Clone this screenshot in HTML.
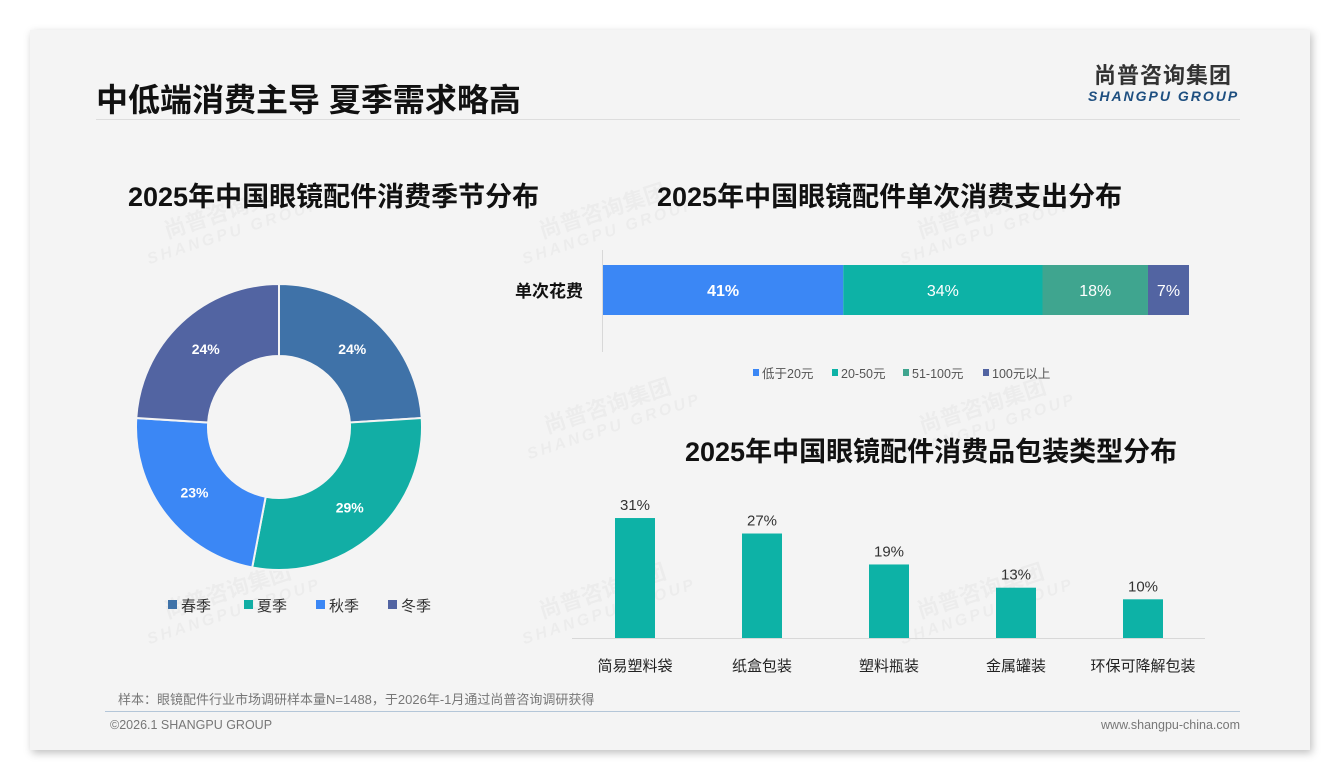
<!DOCTYPE html>
<html><head><meta charset="utf-8">
<style>
body{margin:0;width:1340px;height:780px;background:#fff;font-family:"Liberation Sans","Noto Sans CJK SC",sans-serif;position:relative;overflow:hidden}
.card{position:absolute;left:30px;top:30px;width:1280px;height:720px;background:#f4f4f4;box-shadow:2px 3px 8px rgba(0,0,0,.25)}
.abs{position:absolute;white-space:nowrap}
.wm{position:absolute;color:rgba(0,0,0,0.03);font-weight:bold;transform:rotate(-18deg);font-size:22px;line-height:22px;text-align:center}
.wm small{display:block;font-size:16px;letter-spacing:3px;font-style:italic}
</style></head><body>
<div class="card"></div>
<div class="abs" style="left:96px;top:75px;font-size:32px;font-weight:bold;color:#111">中低端消费主导 夏季需求略高</div>
<div class="abs" style="left:96px;top:119px;width:1144px;height:1px;background:#ddd"></div>
<div class="abs" style="left:1088px;top:64px;width:150px;text-align:center">
 <div style="font-size:22px;font-weight:bold;color:#333;letter-spacing:1px;line-height:24px">尚普咨询集团</div>
 <div style="font-size:14px;font-weight:bold;font-style:italic;color:#1e4f80;letter-spacing:2px;line-height:16px">SHANGPU GROUP</div>
</div>
<div class="wm" style="left:140px;top:200px">尚普咨询集团<small>SHANGPU GROUP</small></div>
<div class="wm" style="left:515px;top:200px">尚普咨询集团<small>SHANGPU GROUP</small></div>
<div class="wm" style="left:893px;top:200px">尚普咨询集团<small>SHANGPU GROUP</small></div>
<div class="wm" style="left:520px;top:395px">尚普咨询集团<small>SHANGPU GROUP</small></div>
<div class="wm" style="left:895px;top:395px">尚普咨询集团<small>SHANGPU GROUP</small></div>
<div class="wm" style="left:140px;top:580px">尚普咨询集团<small>SHANGPU GROUP</small></div>
<div class="wm" style="left:515px;top:580px">尚普咨询集团<small>SHANGPU GROUP</small></div>
<div class="wm" style="left:893px;top:580px">尚普咨询集团<small>SHANGPU GROUP</small></div>

<div class="abs" style="left:128px;top:175px;font-size:27px;font-weight:bold;color:#111">2025年中国眼镜配件消费季节分布</div>
<div class="abs" style="left:657px;top:175px;font-size:27px;font-weight:bold;color:#111">2025年中国眼镜配件单次消费支出分布</div>
<div class="abs" style="left:685px;top:430px;font-size:27px;font-weight:bold;color:#111">2025年中国眼镜配件消费品包装类型分布</div>

<svg id="chart" width="1340" height="780" style="position:absolute;left:0;top:0"></svg>

<div class="abs" style="left:118px;top:689px;font-size:13px;color:#777">样本：眼镜配件行业市场调研样本量N=1488，于2026年-1月通过尚普咨询调研获得</div>
<div class="abs" style="left:105px;top:711px;width:1135px;height:1px;background:#b4c6d8"></div>
<div class="abs" style="left:110px;top:718px;font-size:12.5px;color:#777">©2026.1 SHANGPU GROUP</div>
<div class="abs" style="right:100px;top:718px;font-size:12.5px;color:#777">www.shangpu-china.com</div>

<script>
const seasonLabels=['春季','夏季','秋季','冬季'];
const seasonValues=[24,29,23,24];
const seasonColors=['#3f72a8','#12aea5','#3b87f5','#5264a2'];
const spendLabels=['低于20元','20-50元','51-100元','100元以上'];
const spendValues=[41,34,18,7];
const spendColors=['#3b87f5','#0db2a6','#3fa58f','#5264a2'];
const packLabels=['简易塑料袋','纸盒包装','塑料瓶装','金属罐装','环保可降解包装'];
const packValues=[31,27,19,13,10];

const svg=document.getElementById('chart');const NS='http://www.w3.org/2000/svg';
function mk(t,a,p){const e=document.createElementNS(NS,t);for(const k in a)e.setAttribute(k,a[k]);(p||svg).appendChild(e);return e;}
function tx(x,y,s,a){const e=mk('text',Object.assign({x:x,y:y,'font-family':'Liberation Sans, Noto Sans CJK SC, sans-serif'},a));e.textContent=s;return e;}

// donut
const cx=279,cy=427,R=143,r=71;const tot=seasonValues.reduce((a,b)=>a+b,0);
let ang=-Math.PI/2;
seasonValues.forEach((v,i)=>{
 const a0=ang,a1=ang+v/tot*2*Math.PI;ang=a1;
 const lg=(a1-a0)>Math.PI?1:0;
 const p=`M${cx+R*Math.cos(a0)},${cy+R*Math.sin(a0)} A${R},${R} 0 ${lg} 1 ${cx+R*Math.cos(a1)},${cy+R*Math.sin(a1)} L${cx+r*Math.cos(a1)},${cy+r*Math.sin(a1)} A${r},${r} 0 ${lg} 0 ${cx+r*Math.cos(a0)},${cy+r*Math.sin(a0)}Z`;
 const s=mk('path',{d:p,fill:seasonColors[i],stroke:'#f4f4f4','stroke-width':2});
 
 
 const m=(a0+a1)/2,lr=(R+r)/2;
 const t=tx(cx+lr*Math.cos(m),cy+lr*Math.sin(m)+5,v+'%',{'text-anchor':'middle','font-size':14,'font-weight':'bold',fill:'#fff'});
 
 
});
const legX=[168,244,316,388];
seasonLabels.forEach((l,i)=>{
 const g=mk('g',{});
 
 
 mk('rect',{x:legX[i],y:600,width:9,height:9,fill:seasonColors[i]},g);
 g.appendChild(tx(legX[i]+13,611,l,{'font-size':15,fill:'#333'}));
});

// stacked bar
const sx0=603,sw=586,sy=265,sh=50;
const stot=spendValues.reduce((a,b)=>a+b,0);
const xs=v=>v/stot*sw;
mk('line',{x1:602.5,y1:250,x2:602.5,y2:352,stroke:'#d8d8d8'});
tx(583,297,'单次花费',{'text-anchor':'end','font-size':17,'font-weight':'bold',fill:'#111'});
let acc=0;
spendValues.forEach((v,i)=>{
 const x=sx0+xs(acc),w=xs(v);acc+=v;
 const b=mk('rect',{x:x,y:sy,width:w,height:sh,fill:spendColors[i]});
 
 
 const t=tx(x+w/2,sy+31,v+'%',{'text-anchor':'middle','font-size':16,'font-weight':i==0?'bold':'normal',fill:'#fff'});
 
 
});
const slx=[753,832,903,983];
spendLabels.forEach((l,i)=>{
 const g=mk('g',{});
 
 
 mk('rect',{x:slx[i],y:369,width:6,height:7,fill:spendColors[i]},g);
 g.appendChild(tx(slx[i]+9,378,l,{'font-size':12.5,fill:'#555'}));
});

// column chart
const base=638,pxPer=3.87,bx0=635,step=127,bw=40;
mk('line',{x1:572,y1:base+0.5,x2:1205,y2:base+0.5,stroke:'#d8d8d8'});
packValues.forEach((v,i)=>{
 const c=bx0+i*step,h=v*pxPer;
 const b=mk('rect',{x:c-bw/2,y:base-h,width:bw,height:h,fill:'#0db2a6'});
 
 
 const t=tx(c,base-h-8,v+'%',{'text-anchor':'middle','font-size':15,fill:'#333'});
 
 
 const l=tx(c,671,packLabels[i],{'text-anchor':'middle','font-size':15,fill:'#222'});
 
 
});
</script>
</body></html>
